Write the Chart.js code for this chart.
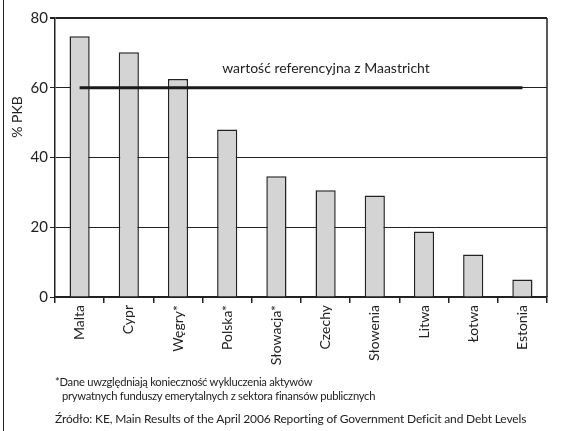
<!DOCTYPE html>
<html>
<head>
<meta charset="utf-8">
<script src="https://cdn.jsdelivr.net/npm/chart.js@4.4.0/dist/chart.umd.min.js"></script>
<style>
  body { margin:0; background:#fff; font-family: Lato, "Open Sans", sans-serif; color:#222; }
  #wrap { position:relative; width:572px; height:431px; overflow:hidden; }
  #edge { position:absolute; left:3px; top:0; width:0; height:431px; border-left:1.5px solid #222; }
  .note { position:absolute; font-size:11.2px; letter-spacing:-0.25px; white-space:nowrap; color:#222; }
  .src { font-size:12px; letter-spacing:-0.15px; }
</style>
<script>
  // data
  var countries = ['Malta', 'Cypr', 'Węgry*', 'Polska*', 'Słowacja*', 'Czechy', 'Słowenia', 'Litwa', 'Łotwa', 'Estonia'];
  var debtPct = [74.8, 70.2, 62.5, 48.0, 34.6, 30.6, 29.1, 18.8, 12.2, 5.0];
  var maastricht = [60, 60, 60, 60, 60, 60, 60, 60, 60, 60];
  var yTicks = [0, 20, 40, 60, 80];

  var myChart = null;

  // extra bits: right frame, axis title and the reference caption
  var decor = {
    id: 'decor',
    afterDraw: function(chart) {
      var ctx = chart.ctx, a = chart.chartArea;
      ctx.save();
      ctx.strokeStyle = '#222';
      ctx.lineWidth = 1.5;
      ctx.beginPath();
      ctx.moveTo(a.right, a.top);
      ctx.lineTo(a.right, a.bottom);
      ctx.stroke();
      ctx.fillStyle = '#222';
      ctx.font = '14px Lato';
      ctx.textAlign = 'center';
      ctx.textBaseline = 'middle';
      ctx.fillText('wartość referencyjna z Maastricht', 326, 68);
      ctx.translate(17, 117);
      ctx.rotate(-Math.PI / 2);
      ctx.font = '14px Lato';
      ctx.fillText('% PKB', 0, 0);
      ctx.restore();
    }
  };

  function createMyChart() {
    var ctx = document.getElementById('myChart').getContext('2d');
    myChart = new Chart(ctx, {
      type: 'bar',
      data: {
        labels: countries,
        datasets: [
          {
            type: 'line',
            data: maastricht,
            borderColor: '#1a1a1a',
            borderWidth: 3,
            pointRadius: 0,
            fill: false,
            order: 0
          },
          {
            data: debtPct,
            backgroundColor: '#d4d4d4',
            borderColor: '#222',
            borderWidth: 1.5,
            categoryPercentage: 1,
            barPercentage: 0.41,
            order: 1
          }
        ]
      },
      options: {
        responsive: false,
        animation: false,
        devicePixelRatio: 1,
        layout: { padding: { top: 18, right: 25, left: 0, bottom: 0 } },
        plugins: { legend: { display: false }, tooltip: { enabled: false } },
        scales: {
          x: {
            grid: { offset: true, drawOnChartArea: false, drawTicks: true, tickLength: 6, color: '#222', lineWidth: 1.5 },
            border: { color: '#222', width: 1.5 },
            ticks: { color: '#222', font: { family: 'Lato', size: 14 }, minRotation: 90, maxRotation: 90, padding: 2 },
            afterFit: function(s) { s.height = 134; }
          },
          y: {
            min: 0, max: 80,
            afterBuildTicks: function(s) { s.ticks = yTicks.map(function(v) { return { value: v }; }); },
            grid: {
              color: '#222',
              lineWidth: function(c) { return c.tick && c.tick.value === 80 ? 2 : 1; },
              tickLength: 5
            },
            border: { color: '#222', width: 1.5 },
            ticks: { color: '#222', font: { family: 'Lato', size: 15 }, padding: 2 },
            afterFit: function(s) { s.width = 55; }
          }
        }
      },
      plugins: [decor]
    });
  }
</script>
</head>
<body onload="createMyChart()">
<div id="wrap">
  <canvas id="myChart" width="572" height="431"></canvas>
  <div id="edge"></div>
  <div class="note" style="left:55px; top:375px;">*Dane uwzględniają konieczność wykluczenia aktywów</div>
  <div class="note" style="left:62px; top:389px;">prywatnych funduszy emerytalnych z sektora finansów publicznych</div>
  <div class="note src" style="left:55px; top:411px;">Źródło: KE, Main Results of the April 2006 Reporting of Government Deficit and Debt Levels</div>
</div>
</body>
</html>
